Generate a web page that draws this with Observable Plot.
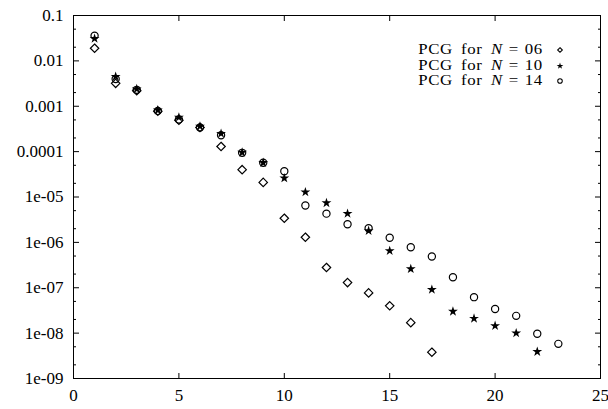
<!DOCTYPE html>
<html>
<head>
<meta charset="utf-8">
<script src="https://cdn.jsdelivr.net/npm/d3@7"></script>
<script src="https://cdn.jsdelivr.net/npm/@observablehq/plot@0.6"></script>
<style>
  body { margin: 0; background: #fff; }
  #wrap { position: relative; width: 608px; height: 409px; }
  .leg { position: absolute; font-family: "Liberation Serif", serif; font-size: 14px; line-height: 15.6px; height: 15.6px;
         color: #000; white-space: nowrap; letter-spacing: 0.5px; word-spacing: 3px;
         transform: scaleX(1.2); transform-origin: right center; }
  .leg i { font-style: italic; }
  .leg .eq { margin: 0 5px; }
</style>
</head>
<body>
<div id="wrap"></div>
<script>
// ---- data ----
const iterN06 = [1,2,3,4,5,6,7,8,9,10,11,12,13,14,15,16,17];
const resN06  = [0.019,0.0032,0.0022,0.00078,0.00049,0.00034,0.00013,4.0e-5,2.1e-5,3.4e-6,1.3e-6,2.8e-7,1.3e-7,7.7e-8,4.0e-8,1.7e-8,3.8e-9];

const iterN10 = [1,2,3,4,5,6,7,8,9,10,11,12,13,14,15,16,17,18,19,20,21,22];
const resN10  = [0.031,0.0045,0.0024,0.00082,0.00057,0.00036,0.00025,9.6e-5,5.7e-5,2.6e-5,1.28e-5,7.4e-6,4.3e-6,1.8e-6,6.5e-7,2.6e-7,9.1e-8,3.0e-8,2.1e-8,1.45e-8,1.0e-8,3.9e-9];

const iterN14 = [1,2,3,4,5,6,7,8,9,10,11,12,13,14,15,16,17,18,19,20,21,22,23];
const resN14  = [0.036,0.0040,0.0023,0.00079,0.00051,0.00034,0.00023,9.4e-5,5.7e-5,3.7e-5,6.5e-6,4.3e-6,2.5e-6,2.05e-6,1.26e-6,7.8e-7,4.9e-7,1.7e-7,6.2e-8,3.4e-8,2.4e-8,9.7e-9,5.8e-9];

const seriesLabels = ["06", "10", "14"];
const xTicks = [0,5,10,15,20,25];
const yTicks = [1e-9,1e-8,1e-7,1e-6,1e-5,1e-4,1e-3,1e-2,1e-1];
const yTickLabels = ["1e-09","1e-08","1e-07","1e-06","1e-05","0.0001","0.001","0.01","0.1"];

// ---- build tables ----
const d06 = iterN06.map((x,i) => ({x, y: resN06[i]}));
const d10 = iterN10.map((x,i) => ({x, y: resN10[i]}));
const d14 = iterN14.map((x,i) => ({x, y: resN14[i]}));
const yMinor = yTicks.slice(0, -1).flatMap(t => [2*t, 5*t]);
const fmtY = v => {
  const i = yTicks.findIndex(t => Math.abs(Math.log10(t) - Math.log10(v)) < 1e-6);
  return i >= 0 ? yTickLabels[i] : "";
};
const blank = () => "";

const plot = Plot.plot({
  width: 608, height: 409,
  marginLeft: 73, marginRight: 8, marginTop: 15, marginBottom: 31,
  style: {fontFamily: "'Liberation Serif', serif", fontSize: "17px", color: "#000", background: "#fff", overflow: "visible"},
  x: {domain: [0, 25]},
  y: {type: "log", domain: [1e-9, 0.1]},
  marks: [
    Plot.frame({stroke: "#000", strokeWidth: 1}),
    Plot.axisX(xTicks, {anchor: "bottom", tickSize: -5, tickPadding: 15, tickFormat: d => String(d), label: null}),
    Plot.axisX(xTicks, {anchor: "top", tickSize: -5, tickFormat: blank, label: null}),
    Plot.axisY(yTicks, {anchor: "left", tickSize: -6, tickPadding: 16, tickFormat: fmtY, label: null}),
    Plot.axisY(yTicks, {anchor: "right", tickSize: -6, tickFormat: blank, label: null}),
    Plot.axisY(yMinor, {anchor: "left", tickSize: -3, tickFormat: blank, label: null}),
    Plot.axisY(yMinor, {anchor: "right", tickSize: -3, tickFormat: blank, label: null}),
    Plot.dot(d06, {x: "x", y: "y", symbol: "diamond2", r: 3.8, stroke: "#000", strokeWidth: 1.2, fill: "none"}),
    Plot.dot(d14, {x: "x", y: "y", symbol: "circle", r: 3.6, stroke: "#000", strokeWidth: 1.2, fill: "none"}),
    Plot.dot(d10, {x: "x", y: "y", symbol: "star", r: 3.1, fill: "#000", stroke: "none"})
  ]
});

const wrap = document.getElementById("wrap");
wrap.appendChild(plot);

// ---- legend ----
const legSymbols = [
  {sym: d3.symbolDiamond2, size: 14, fill: "none", stroke: "#000"},
  {sym: d3.symbolStar, size: 14, fill: "#000", stroke: "none"},
  {sym: d3.symbolCircle, size: 16, fill: "none", stroke: "#000"}
];
seriesLabels.forEach((lab, i) => {
  const top = 42 + i * 15.6;
  const row = document.createElement("div");
  row.className = "leg";
  row.style.top = top + "px";
  row.style.right = (608 - 543) + "px";
  row.innerHTML = `PCG for <i>N</i><span class="eq">=</span>${lab}`;
  wrap.appendChild(row);
  const s = legSymbols[i];
  const svg = d3.create("svg").attr("width", 12).attr("height", 12)
    .style("position", "absolute").style("left", "554px").style("top", (top + 2) + "px");
  svg.append("path").attr("transform", "translate(6,6)")
    .attr("d", d3.symbol(s.sym, s.size)())
    .attr("fill", s.fill).attr("stroke", s.stroke).attr("stroke-width", 1.1);
  wrap.appendChild(svg.node());
});
</script>
</body>
</html>
